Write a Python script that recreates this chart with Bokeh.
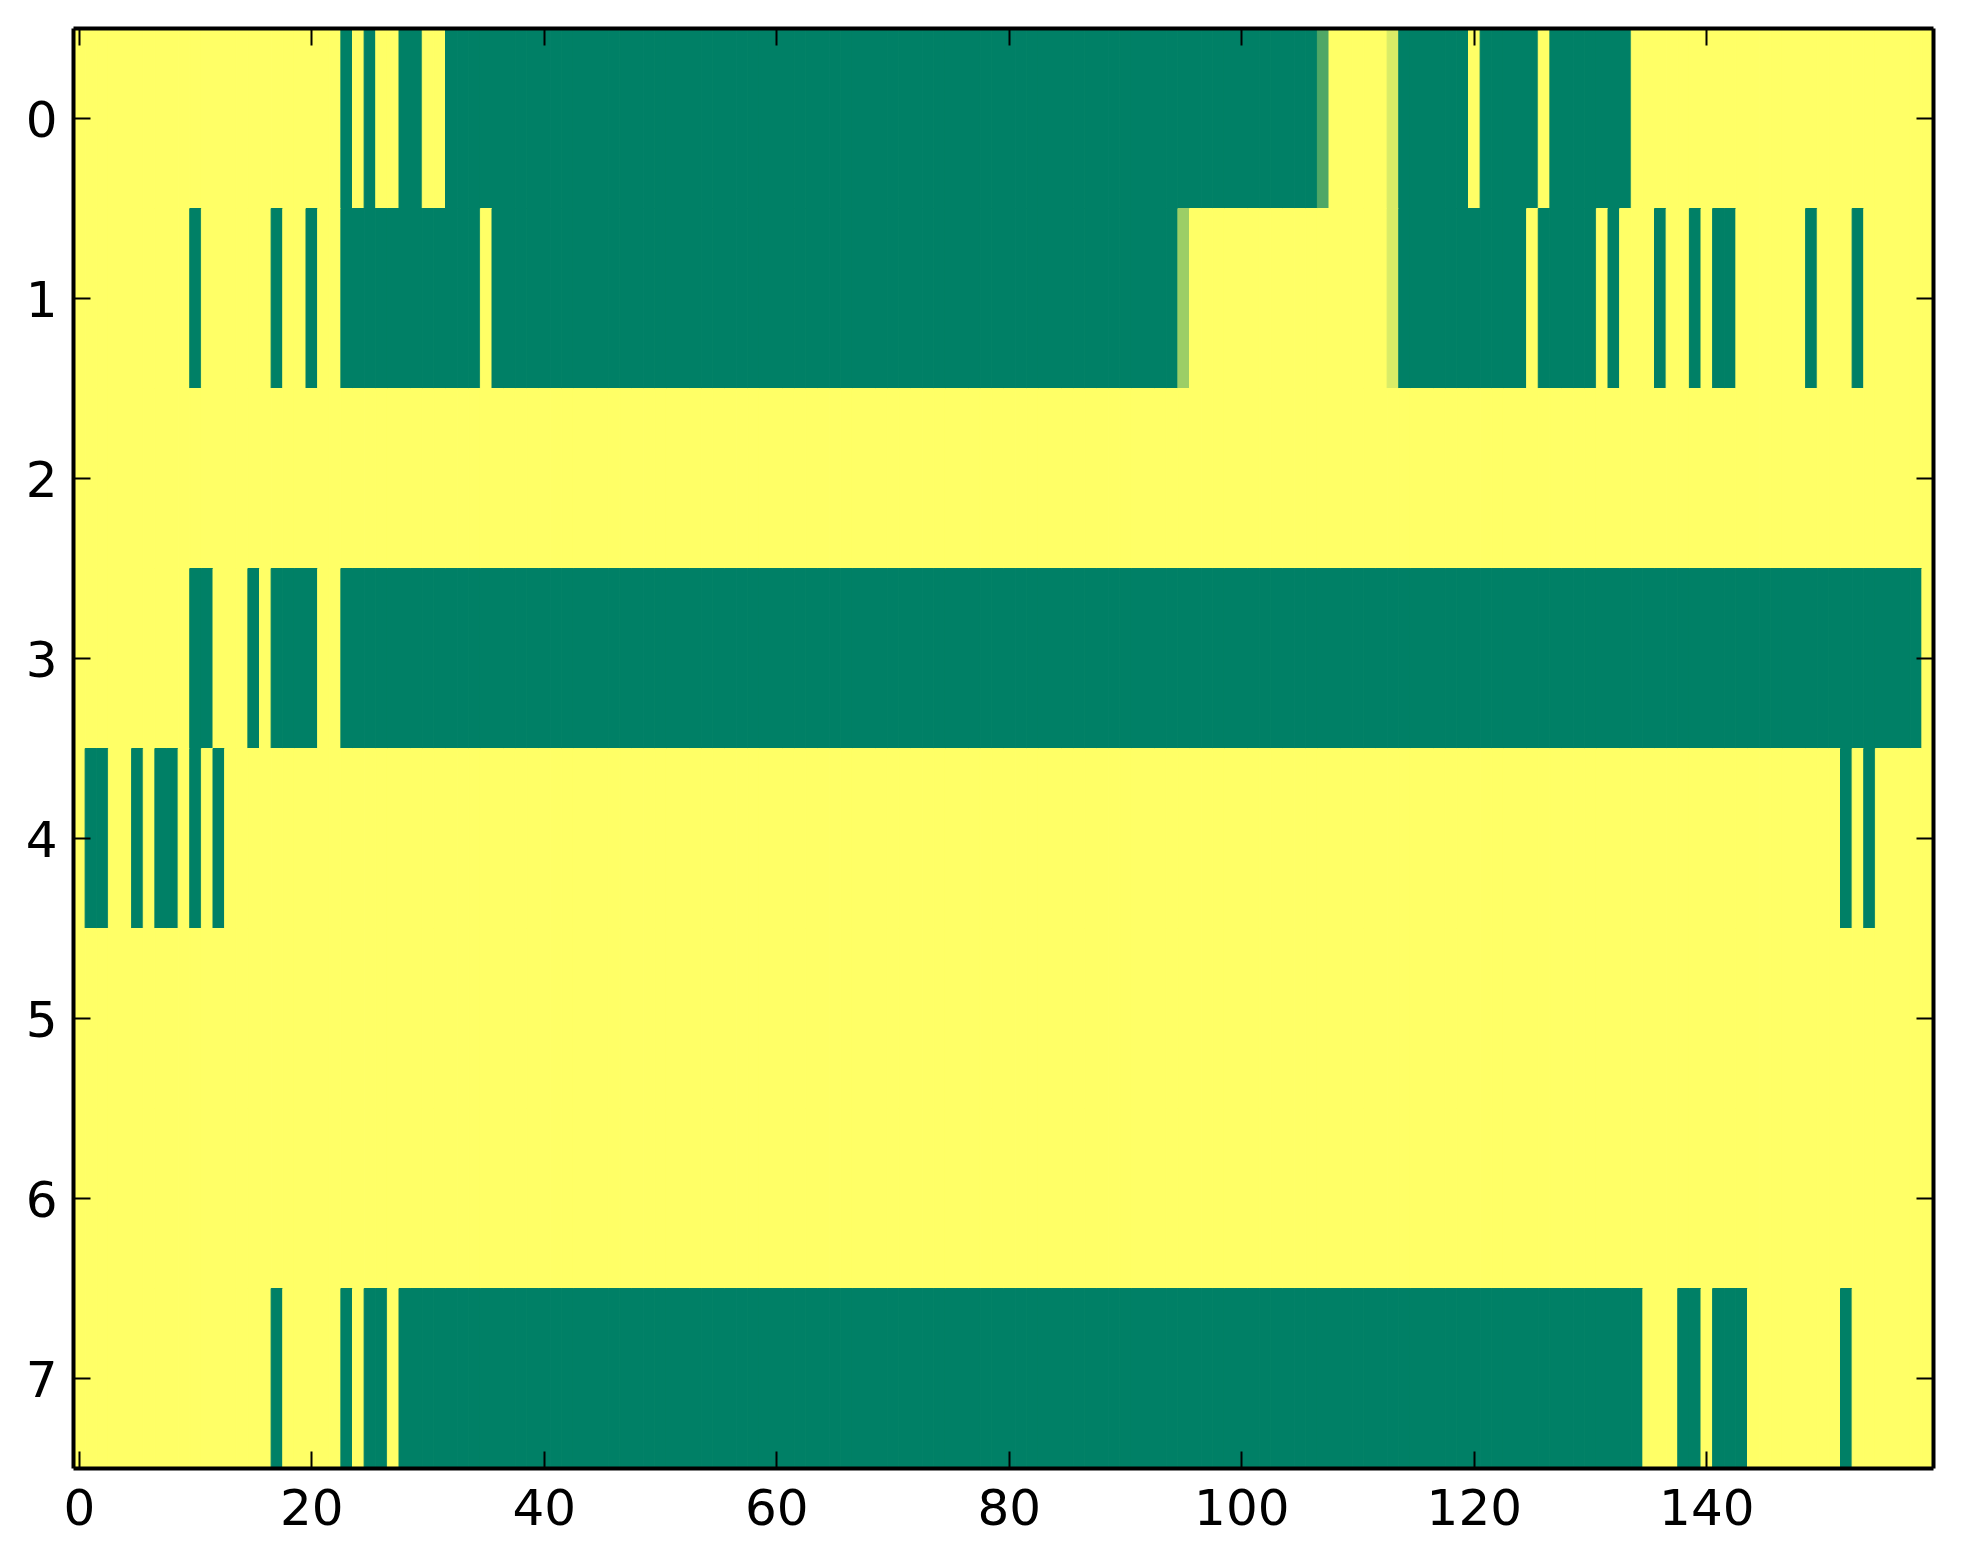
import numpy as np

from bokeh.embed import file_html
from bokeh.models import (ColumnDataSource,
                          FixedTicker,
                          LinearAxis,
                          Range1d)
from bokeh.plotting import figure
from bokeh.resources import INLINE
from bokeh.transform import linear_cmap

n_rows = 8
n_cols = 160

x_ticks = [0, 20, 40, 60, 80, 100, 120, 140]
y_ticks = [0, 1, 2, 3, 4, 5, 6, 7]

# runs of fully "on" cells per row: (first column, last column), inclusive
row_0_runs = [(23, 23), (25, 25), (28, 29), (32, 106),
              (114, 119), (121, 125), (127, 133)]
row_1_runs = [(10, 10), (17, 17), (20, 20), (23, 34), (36, 94),
              (114, 124), (126, 130), (132, 132), (136, 136),
              (139, 139), (141, 142), (149, 149), (153, 153)]
row_2_runs = []
row_3_runs = [(10, 11), (15, 15), (17, 20), (23, 158)]
row_4_runs = [(1, 2), (5, 5), (7, 8), (10, 10), (12, 12),
              (152, 152), (154, 154)]
row_5_runs = []
row_6_runs = []
row_7_runs = [(17, 17), (23, 23), (25, 26), (28, 134),
              (138, 139), (141, 143), (152, 152)]

# the few cells with an in-between value: (row, column, value)
partial_cells = [(0, 107, 0.69),
                 (0, 113, 0.15),
                 (1, 95, 0.39),
                 (1, 113, 0.15)]

all_runs = [row_0_runs, row_1_runs, row_2_runs, row_3_runs,
            row_4_runs, row_5_runs, row_6_runs, row_7_runs]

grid = np.zeros((n_rows, n_cols))
for row, runs in enumerate(all_runs):
    for first, last in runs:
        grid[row, first:last + 1] = 1.0
for row, col, val in partial_cells:
    grid[row, col] = val

cols, rows = np.meshgrid(np.arange(n_cols), np.arange(n_rows))
source = ColumnDataSource(dict(x=cols.ravel(),
                               y=rows.ravel(),
                               v=grid.ravel()))

# matplotlib "summer_r": 0 -> yellow, 1 -> green
summer_r = []
for t in np.linspace(0, 1, 256):
    s = 1 - t
    summer_r.append("#%02x%02x%02x" % (int(round(255 * s)),
                                       int(round(255 * (0.5 + 0.5 * s))),
                                       102))
mapper = linear_cmap("v", summer_r, 0, 1)

p = figure(frame_width=1860, frame_height=1440,
           x_range=Range1d(-0.5, 159.5),
           y_range=Range1d(7.5, -0.5),
           min_border_left=73, min_border_right=10,
           min_border_top=28, min_border_bottom=88,
           output_backend="svg", toolbar_location=None)

p.rect("x", "y", width=1, height=1, source=source,
       fill_color=mapper, line_color=mapper, line_width=1)

p.add_layout(LinearAxis(), "above")
p.add_layout(LinearAxis(), "right")

p.grid.visible = False
p.outline_line_color = None

for axis in p.xaxis:
    axis.ticker = FixedTicker(ticks=x_ticks)
for axis in p.yaxis:
    axis.ticker = FixedTicker(ticks=y_ticks)

for axis in p.axis:
    axis.axis_line_color = "black"
    axis.axis_line_width = 4
    axis.major_tick_in = 17
    axis.major_tick_out = 0
    axis.major_tick_line_width = 2
    axis.major_tick_line_color = "black"
    axis.minor_tick_line_color = None
    axis.major_label_text_font = "DejaVu Sans"
    axis.major_label_text_font_size = "50px"
    axis.major_label_text_color = "black"

p.xaxis[1].major_label_standoff = 20
p.yaxis[0].major_label_standoff = 16

# top and right axes carry ticks only
for axis in (p.xaxis[0], p.yaxis[1]):
    axis.major_label_text_color = None
    axis.major_label_standoff = 0

open("out.html", "w").write(file_html(p, INLINE))
